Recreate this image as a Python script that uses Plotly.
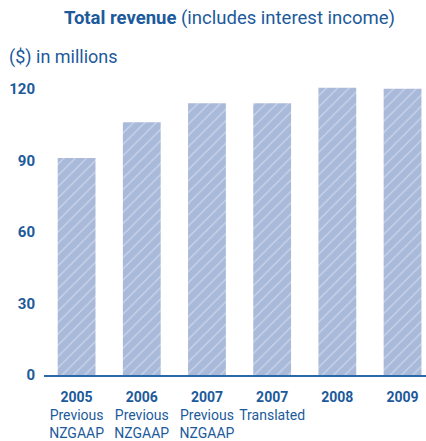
import plotly.graph_objects as go

# Total revenue, $ millions
years = ["2005", "2006", "2007", "2007", "2008", "2009"]
bases = ["Previous<br>NZGAAP", "Previous<br>NZGAAP", "Previous<br>NZGAAP", "Translated", "", ""]
revenue = [91, 106, 114, 114, 120.5, 120]
y_ticks = [0, 30, 60, 90, 120]

DARK = "#1c5a9b"
BAR = "#a9b9da"
STRIPE = "#eef2fa"
FONT = "Roboto"

x_pos = list(range(len(years)))
tick_text = [f"<b>{y}</b>" + (f"<br>{b}" if b else "") for y, b in zip(years, bases)]

fig = go.Figure(
    go.Bar(
        x=x_pos,
        y=revenue,
        width=0.58,
        marker=dict(
            color=BAR,
            line=dict(width=0),
            pattern=dict(shape="/", fgcolor=STRIPE, bgcolor=BAR, size=8, solidity=0.15),
        ),
        hoverinfo="skip",
    )
)

fig.update_layout(
    width=426,
    height=441,
    margin=dict(l=44, r=0, t=65, b=66),
    paper_bgcolor="white",
    plot_bgcolor="white",
    showlegend=False,
    font=dict(family=FONT, color=DARK, size=13),
    xaxis=dict(
        range=[-0.5, 5.36],
        tickmode="array",
        tickvals=x_pos,
        ticktext=tick_text,
        showline=True,
        linecolor="#2b68a8",
        linewidth=2,
        showgrid=False,
        zeroline=False,
        ticks="",
        automargin=False,
        ticklabelstandoff=8,
        tickfont=dict(family=FONT, size=14, color=DARK),
    ),
    yaxis=dict(
        range=[0, 130],
        tickmode="array",
        tickvals=y_ticks,
        ticktext=[f"<b>{v}</b>" for v in y_ticks],
        showgrid=False,
        zeroline=False,
        showline=False,
        ticks="",
        automargin=False,
        ticklabelstandoff=8,
        tickfont=dict(family=FONT, size=15, color=DARK),
    ),
    annotations=[
        dict(
            text="<b>Total revenue</b> (includes interest income)",
            showarrow=False, xref="paper", yref="paper",
            font=dict(family=FONT, size=18.5, color=DARK),
        ),
        dict(
            text="($) in millions",
            showarrow=False, xref="paper", yref="paper",
            xanchor="left",
            font=dict(family=FONT, size=18, color=DARK),
        ),
    ],
)

# place header annotations in pixel terms relative to the plot area
plot_w = 426 - 44
plot_h = 441 - 65 - 66
for ann, (px, py) in zip(fig.layout.annotations, [(229, 18), (7, 57)]):
    ann.x = (px - 44) / plot_w
    ann.y = (441 - 66 - py) / plot_h
    ann.yanchor = "middle"

fig.write_html("out.html")
